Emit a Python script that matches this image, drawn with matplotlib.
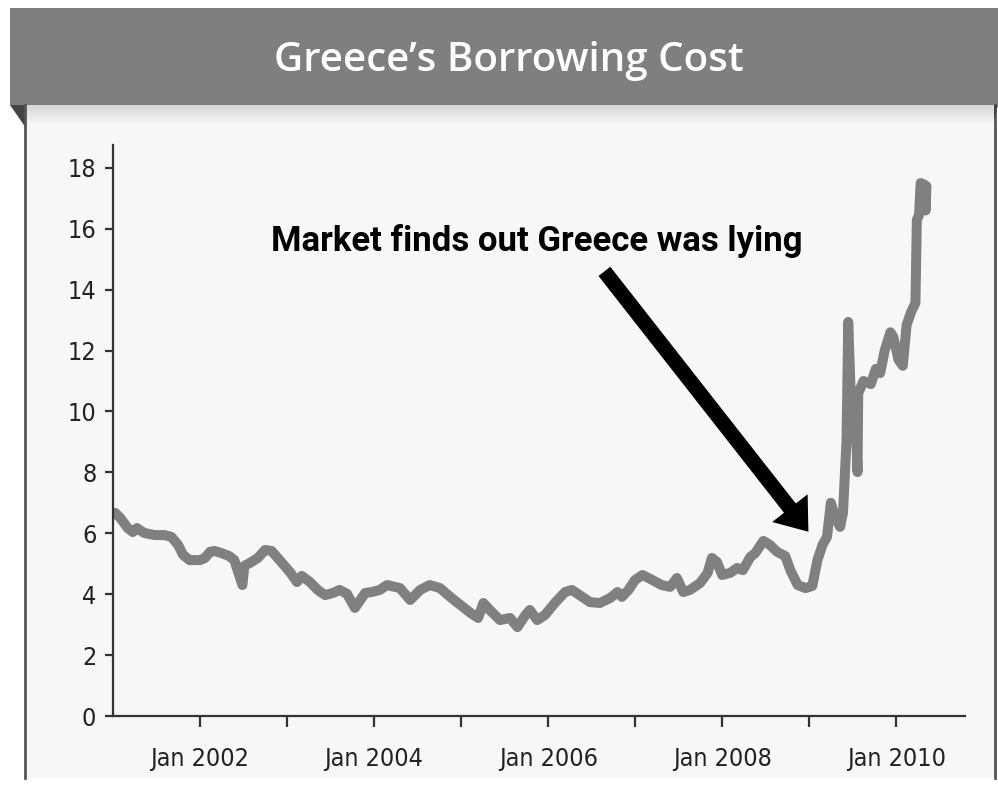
import numpy as np
import pandas as pd
import matplotlib
matplotlib.use("Agg")
import matplotlib.pyplot as plt
from matplotlib.patches import Rectangle, Polygon

# Rendimiento bono griego
fechas = ["2001-01-10", "2001-02-01", "2001-03-04", "2001-03-25", "2001-04-12", "2001-05-12",
          "2001-06-25", "2001-08-06", "2001-09-03", "2001-10-01", "2001-10-22", "2001-11-18",
          "2002-01-01", "2002-01-22", "2002-02-12", "2002-03-04", "2002-04-01", "2002-05-04",
          "2002-05-25", "2002-06-28", "2002-07-06", "2002-07-28", "2002-09-01", "2002-10-01",
          "2002-10-28", "2002-12-01", "2003-01-13", "2003-02-12", "2003-03-04", "2003-04-07",
          "2003-05-10", "2003-06-10", "2003-07-13", "2003-08-10", "2003-09-10", "2003-10-13",
          "2003-11-25", "2003-12-22", "2004-01-25", "2004-02-25", "2004-04-19", "2004-06-01",
          "2004-07-13", "2004-08-22", "2004-10-04", "2004-11-16", "2004-12-28", "2005-02-10",
          "2005-03-13", "2005-04-04", "2005-05-01", "2005-06-13", "2005-07-25", "2005-08-25",
          "2005-09-28", "2005-10-16", "2005-11-16", "2005-12-19", "2006-02-01", "2006-03-13",
          "2006-04-10", "2006-05-13", "2006-06-25", "2006-08-06", "2006-09-19", "2006-10-19",
          "2006-11-06", "2006-12-04", "2007-01-01", "2007-02-01", "2007-03-13", "2007-04-22",
          "2007-05-28", "2007-06-25", "2007-07-22", "2007-08-19", "2007-10-01", "2007-11-01",
          "2007-11-19", "2007-12-10", "2008-01-01", "2008-02-04", "2008-03-04", "2008-03-28",
          "2008-04-28", "2008-05-19", "2008-06-22", "2008-07-19", "2008-08-19", "2008-09-22",
          "2008-10-13", "2008-11-13", "2008-12-16", "2009-01-13", "2009-02-04", "2009-02-25",
          "2009-03-16", "2009-04-01", "2009-04-19", "2009-05-10", "2009-05-22", "2009-06-06",
          "2009-06-13", "2009-06-25", "2009-07-13", "2009-07-22", "2009-07-25", "2009-08-16",
          "2009-09-16", "2009-10-07", "2009-10-25", "2009-11-13", "2009-12-07", "2009-12-19",
          "2010-01-10", "2010-01-28", "2010-02-13", "2010-03-04", "2010-03-22", "2010-03-28",
          "2010-04-06", "2010-04-13", "2010-04-28", "2010-05-04", "2010-05-07"]
rendimiento = [6.67, 6.50, 6.17, 6.04, 6.17, 6.01,
               5.94, 5.94, 5.88, 5.62, 5.29, 5.12,
               5.12, 5.19, 5.39, 5.42, 5.35, 5.25,
               5.12, 4.30, 4.93, 5.02, 5.19, 5.45,
               5.42, 5.12, 4.73, 4.40, 4.60, 4.40,
               4.14, 3.97, 4.04, 4.14, 4.01, 3.55,
               4.04, 4.07, 4.14, 4.30, 4.20, 3.81,
               4.14, 4.30, 4.20, 3.91, 3.65, 3.38,
               3.22, 3.71, 3.48, 3.15, 3.22, 2.92,
               3.32, 3.48, 3.15, 3.32, 3.74, 4.07,
               4.14, 3.97, 3.74, 3.71, 3.88, 4.07,
               3.91, 4.14, 4.47, 4.63, 4.47, 4.30,
               4.24, 4.53, 4.07, 4.14, 4.37, 4.70,
               5.19, 5.06, 4.63, 4.70, 4.86, 4.79,
               5.22, 5.35, 5.75, 5.62, 5.39, 5.25,
               4.79, 4.30, 4.20, 4.27, 5.12, 5.62,
               5.88, 7.00, 6.54, 6.21, 6.67, 9.06,
               12.94, 10.20, 10.05, 8.01, 10.60, 11.00,
               10.90, 11.40, 11.26, 12.00, 12.60, 12.45,
               11.70, 11.50, 12.84, 13.27, 13.56, 16.29,
               16.45, 17.50, 17.45, 16.60, 17.40]

ticks_x = ["2002-01-01", "2003-01-01", "2004-01-01", "2005-01-01", "2006-01-01",
           "2007-01-01", "2008-01-01", "2009-01-01", "2010-01-01"]
etiquetas_x = ["Jan 2002", "", "Jan 2004", "", "Jan 2006", "", "Jan 2008", "", "Jan 2010"]
ticks_y = [0, 2, 4, 6, 8, 10, 12, 14, 16, 18]

titulo = "Greece\u2019s Borrowing Cost"
nota = "Market finds out Greece was lying"

W, H = 998, 785
fig = plt.figure(figsize=(W / 100, H / 100), dpi=100, facecolor="white")

# Fondo decorativo en coordenadas de pixel
bg = fig.add_axes([0, 0, 1, 1])
bg.set_xlim(0, W)
bg.set_ylim(H, 0)
bg.axis("off")
bg.add_patch(Rectangle((25, 105), 970, 673, facecolor="#f7f7f7", edgecolor="none"))
grad = np.linspace(0.84, 0.97, 30).reshape(-1, 1)
bg.imshow(grad, cmap="gray", vmin=0, vmax=1, extent=[25, 995, 125, 105], aspect="auto", zorder=1)
bg.add_patch(Rectangle((10, 8), 988, 97, facecolor="#7f7f7f", edgecolor="none", zorder=2))
bg.add_patch(Polygon([(10, 105), (26, 105), (26, 128)], closed=True, facecolor="#444444", zorder=2))
bg.plot([25, 25], [105, 778], color="#555555", lw=2, zorder=2)
bg.plot([995, 995], [105, 778], color="#555555", lw=2, zorder=2)
bg.add_patch(Polygon([(998, 105), (994, 105), (994, 120)], closed=True, facecolor="#444444", zorder=2))
bg.text(509, 61, titulo, color="white", fontsize=29, fontfamily="Open Sans",
        fontweight="semibold", ha="center", va="center", zorder=3)

# Grafico principal
ax = fig.add_axes([113 / W, 1 - 716 / H, (965 - 113) / W, (716 - 145) / H])
ax.set_facecolor("none")
x = pd.to_datetime(fechas)
ax.plot(x, rendimiento, color="#808080", lw=7.2, solid_joinstyle="round", solid_capstyle="round")

ax.set_xlim(pd.Timestamp("2001-01-01"), pd.Timestamp("2010-10-16"))
ax.set_ylim(0, 18.75)
ax.set_xticks(pd.to_datetime(ticks_x))
ax.set_xticklabels(etiquetas_x)
ax.set_yticks(ticks_y)
ax.set_yticklabels([str(v) for v in ticks_y])

for s in ["top", "right"]:
    ax.spines[s].set_visible(False)
for s in ["left", "bottom"]:
    ax.spines[s].set_color("#333333")
    ax.spines[s].set_linewidth(1.6)

ax.tick_params(axis="y", length=6, width=1.6, color="#333333", pad=6, labelsize=18, labelcolor="#222222")
ax.tick_params(axis="x", length=8, width=1.6, color="#333333", pad=14, labelsize=18, labelcolor="#222222")
for lab in ax.get_xticklabels() + ax.get_yticklabels():
    lab.set_fontfamily("DejaVu Sans")
    lab.set_fontstretch("condensed")

# Anotacion con flecha
ax.annotate("", xy=(pd.Timestamp("2008-12-28"), 6.05), xytext=(pd.Timestamp("2006-08-25"), 14.6),
            arrowprops=dict(arrowstyle="simple,head_length=0.6,head_width=0.9,tail_width=0.3",
                            mutation_scale=36, color="black", lw=0, shrinkA=0, shrinkB=0))
ax.text(pd.Timestamp("2005-11-15"), 15.6, nota, fontsize=25, fontweight="bold",
        fontfamily="Roboto", ha="center", va="center", color="black")

fig.savefig("out.png", dpi=100, facecolor="white")
